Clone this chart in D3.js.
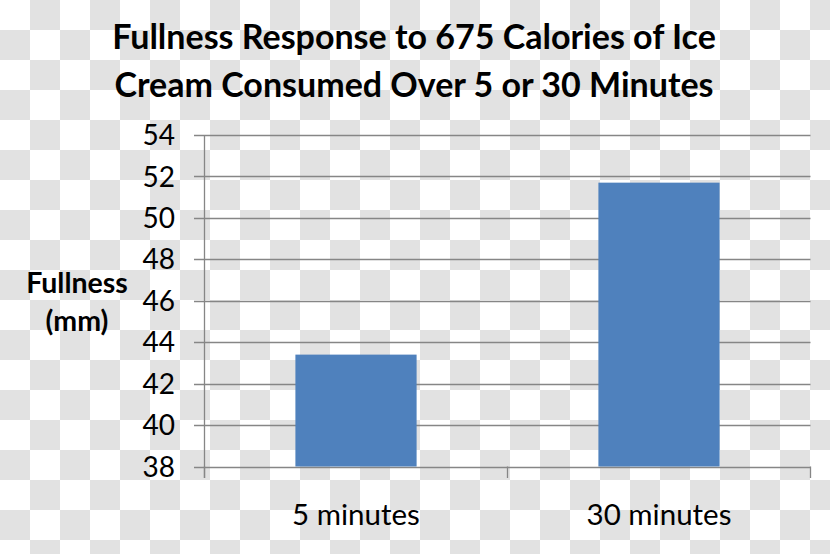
<!DOCTYPE html>
<html>
<head>
<meta charset="utf-8">
<script src="https://cdn.jsdelivr.net/npm/d3@7"></script>
<style>
  html, body { margin: 0; padding: 0; background: #fff; }
  svg { display: block; }
</style>
</head>
<body>
<svg id="chart" width="830" height="554"></svg>
<script>
const titleLines = ["Fullness Response to 675 Calories of Ice", "Cream Consumed Over 5 or 30 Minutes"];
const yLabelLines = ["Fullness", "(mm)"];
const categories = ["5 minutes", "30 minutes"];
const values = [43.4, 51.7];
const yTicks = [38, 40, 42, 44, 46, 48, 50, 52, 54];

const W = 830, H = 554;
const svg = d3.select("#chart");
const font = "Lato, 'Open Sans', sans-serif";

// transparent-style checker background
const defs = svg.append("defs");
const pat = defs.append("pattern").attr("id", "checker")
  .attr("width", 60).attr("height", 60).attr("patternUnits", "userSpaceOnUse");
pat.append("rect").attr("width", 60).attr("height", 60).attr("fill", "#ffffff");
pat.append("rect").attr("x", 30).attr("y", 0).attr("width", 30).attr("height", 30).attr("fill", "#e2e2e2");
pat.append("rect").attr("x", 0).attr("y", 30).attr("width", 30).attr("height", 30).attr("fill", "#e2e2e2");
svg.append("rect").attr("width", W).attr("height", H).attr("fill", "url(#checker)");

const x = d3.scaleBand().domain(categories).range([204.5, 810.5]).paddingInner(0.6).paddingOuter(0.3);
const xCat = d3.scaleBand().domain(categories).range([204.5, 810.5]);
const y = d3.scaleLinear().domain([38, 54]).range([466.5, 135]);

const gridColor = "#868686";

// gridlines with left tick marks
svg.append("g").selectAll("line").data(yTicks).join("line")
  .attr("x1", 194).attr("x2", 810.5)
  .attr("y1", d => Math.round(y(d)) + 0.5).attr("y2", d => Math.round(y(d)) + 0.5)
  .attr("stroke", gridColor).attr("stroke-width", 1.3);

// bars
svg.append("g").selectAll("rect").data(values).join("rect")
  .attr("x", (d, i) => x(categories[i]))
  .attr("width", x.bandwidth())
  .attr("y", d => y(d))
  .attr("height", d => y(38) - y(d))
  .attr("fill", "#4f81bd");

// y axis line
svg.append("line").attr("x1", 204.5).attr("x2", 204.5).attr("y1", 135).attr("y2", 478)
  .attr("stroke", gridColor).attr("stroke-width", 1.3);

// x axis category tick marks
const bounds = [xCat(categories[0]), xCat(categories[1]), xCat(categories[1]) + xCat.bandwidth()];
svg.append("g").selectAll("line").data(bounds).join("line")
  .attr("x1", d => d).attr("x2", d => d).attr("y1", y(38)).attr("y2", 478)
  .attr("stroke", gridColor).attr("stroke-width", 1.3);

// y tick labels
svg.append("g").selectAll("text").data(yTicks).join("text")
  .attr("x", 175).attr("y", d => y(d)).attr("dy", "0.36em")
  .attr("text-anchor", "end")
  .attr("font-family", font).attr("font-size", 28).attr("fill", "#000")
  .text(d => d);

// x category labels
svg.append("g").selectAll("text").data(categories).join("text")
  .attr("x", d => xCat(d) + xCat.bandwidth() / 2).attr("y", 525)
  .attr("text-anchor", "middle")
  .attr("font-family", font).attr("font-size", 29.5).attr("fill", "#000")
  .text(d => d);

// title
svg.append("g").selectAll("text").data(titleLines).join("text")
  .attr("x", 414).attr("y", (d, i) => 49 + i * 48)
  .attr("text-anchor", "middle")
  .attr("font-family", font).attr("font-weight", "bold").attr("font-size", 34).attr("fill", "#000")
  .text(d => d);

// y axis title
svg.append("g").selectAll("text").data(yLabelLines).join("text")
  .attr("x", 77).attr("y", (d, i) => 293 + i * 38)
  .attr("text-anchor", "middle")
  .attr("font-family", font).attr("font-weight", "bold").attr("font-size", 28.5).attr("fill", "#000")
  .text(d => d);
</script>
</body>
</html>
